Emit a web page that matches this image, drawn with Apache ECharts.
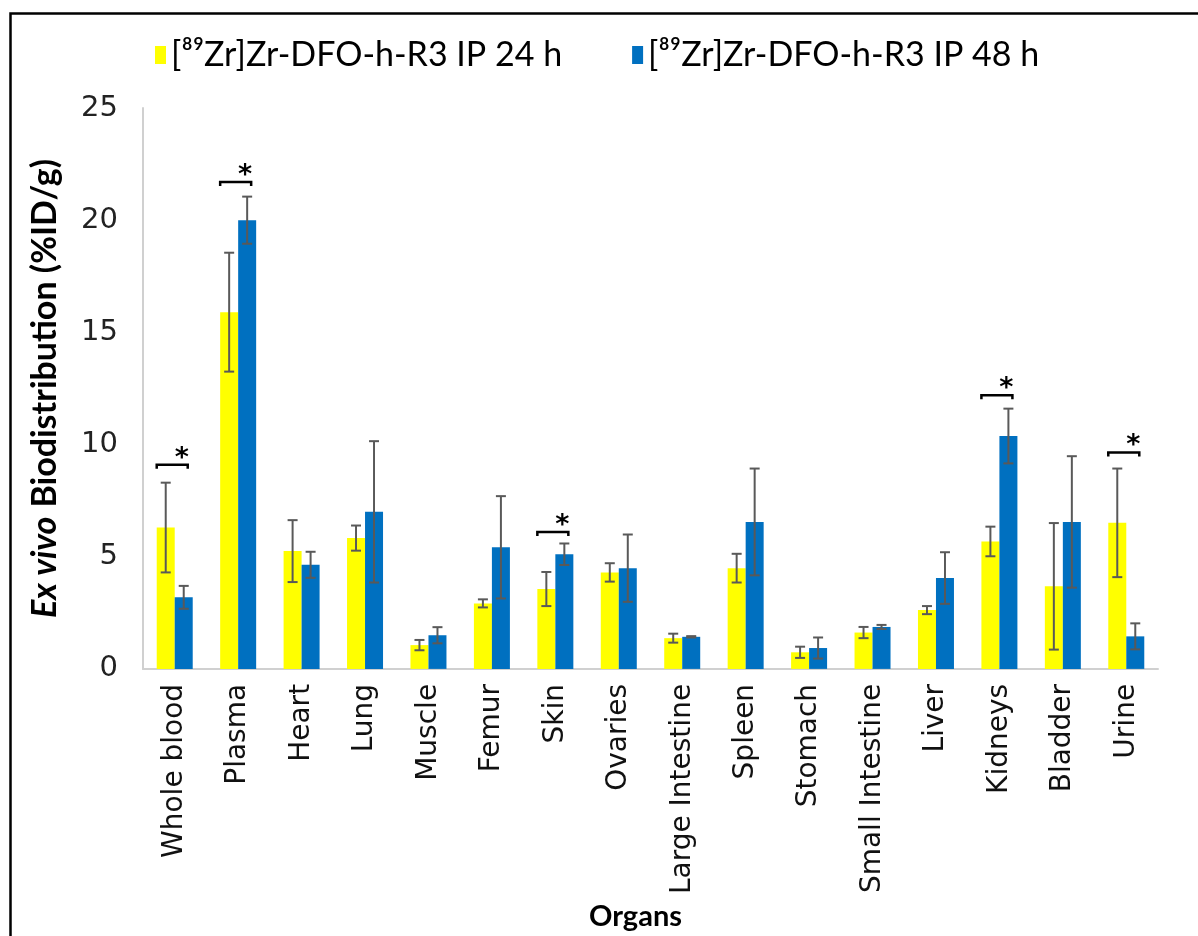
<!DOCTYPE html>
<html>
<head>
<meta charset="utf-8">
<script src="https://cdn.jsdelivr.net/npm/echarts@6/dist/echarts.min.js"></script>
<style>
html,body{margin:0;padding:0;background:#fff;}
#chart{width:1198px;height:936px;}
</style>
</head>
<body>
<div id="chart"></div>
<script>
const organs = ['Whole blood','Plasma','Heart','Lung','Muscle','Femur','Skin','Ovaries','Large Intestine','Spleen','Stomach','Small Intestine','Liver','Kidneys','Bladder','Urine'];
const seriesNames = ['[⁸⁹Zr]Zr-DFO-h-R3 IP 24 h', '[⁸⁹Zr]Zr-DFO-h-R3 IP 48 h'];
const values24 = [6.3, 15.9, 5.25, 5.83, 1.06, 2.92, 3.56, 4.3, 1.37, 4.49, 0.74, 1.62, 2.62, 5.68, 3.68, 6.51];
const err24 = [2.0, 2.65, 1.38, 0.56, 0.23, 0.18, 0.76, 0.41, 0.2, 0.64, 0.25, 0.25, 0.18, 0.66, 2.82, 2.42];
const values48 = [3.19, 20.0, 4.64, 7.0, 1.5, 5.42, 5.11, 4.49, 1.43, 6.55, 0.93, 1.87, 4.05, 10.38, 6.55, 1.45];
const err48 = [0.51, 1.05, 0.58, 3.15, 0.36, 2.28, 0.48, 1.5, 0.03, 2.38, 0.47, 0.09, 1.15, 1.22, 2.93, 0.58];
const yTicks = { min: 0, max: 25, interval: 5 };
// significance brackets: organ index, bracket level (%ID/g)
const sigOrgan = [0, 1, 6, 13, 15];
const sigLevel = [9.1, 21.7, 6.1, 12.2, 9.65];

const chart = echarts.init(document.getElementById('chart'), null, {renderer: 'canvas'});

function errData(vals, errs) {
  return vals.map((v, i) => [i, v - errs[i], v + errs[i]]);
}
const HALF = 9;
function errRender(offset) {
  return function (params, api) {
    const i = api.value(0);
    const lo = api.coord([i, api.value(1)]);
    const hi = api.coord([i, api.value(2)]);
    const x = lo[0] + offset;
    const cap = 5;
    const style = {stroke: '#595959', lineWidth: 2};
    return {
      type: 'group',
      children: [
        {type: 'line', shape: {x1: x, y1: lo[1], x2: x, y2: hi[1]}, style},
        {type: 'line', shape: {x1: x - cap, y1: lo[1], x2: x + cap, y2: lo[1]}, style},
        {type: 'line', shape: {x1: x - cap, y1: hi[1], x2: x + cap, y2: hi[1]}, style}
      ]
    };
  };
}

const option = {
  backgroundColor: '#ffffff',
  animation: false,
  graphic: [{
    type: 'rect', left: 8, top: 11, z: 100,
    shape: {x: 0, y: 0, width: 1195, height: 1000},
    style: {fill: 'none', stroke: '#000', lineWidth: 2.5}
  }],
  legend: {
    top: 33, left: 150,
    itemWidth: 11, itemHeight: 18, itemGap: 70,
    icon: 'rect',
    textStyle: {fontFamily: 'Lato', fontSize: 34, color: '#000'},
    data: seriesNames
  },
  grid: {left: 143, right: 40, top: 108, bottom: 262, containLabel: false},
  xAxis: {
    type: 'category',
    data: organs,
    axisLine: {show: true, lineStyle: {color: '#d0d0d0', width: 2}},
    axisTick: {show: false},
    axisLabel: {rotate: 90, margin: 15, fontFamily: 'DejaVu Sans', fontSize: 28, color: '#111', interval: 0},
    name: 'Organs',
    nameLocation: 'middle',
    nameGap: 231,
    nameTextStyle: {fontFamily: 'Lato', fontWeight: 'bold', fontSize: 29, color: '#000', padding: [0, 30, 0, 0]}
  },
  yAxis: {
    type: 'value',
    min: yTicks.min, max: yTicks.max, interval: yTicks.interval,
    splitLine: {show: false},
    axisLine: {show: true, lineStyle: {color: '#d0d0d0', width: 2}},
    axisTick: {show: false},
    axisLabel: {margin: 25, fontFamily: 'DejaVu Sans', fontSize: 29, color: '#222'},
    name: '{i|Ex vivo}{s| }{b|Biodistribution (%ID/g)}',
    nameLocation: 'middle',
    nameRotate: 90,
    nameGap: 81,
    nameTextStyle: {
      rich: {
        i: {fontFamily: 'Lato', fontStyle: 'italic', fontWeight: 'bold', fontSize: 34, color: '#000'},
        s: {fontFamily: 'Lato', fontSize: 34, width: 9},
        b: {fontFamily: 'Lato', fontWeight: 'bold', fontSize: 34, color: '#000'}
      }
    }
  },
  series: [
    {
      name: seriesNames[0], type: 'bar', data: values24,
      barWidth: 18, barGap: '0%',
      itemStyle: {color: '#FFFF00'}
    },
    {
      name: seriesNames[1], type: 'bar', data: values48,
      barWidth: 18, barGap: '0%',
      itemStyle: {color: '#0070C0'}
    },
    {
      type: 'custom', name: 'err24', data: errData(values24, err24),
      renderItem: errRender(-HALF), encode: {x: 0, y: [1, 2]}, z: 10, silent: true
    },
    {
      type: 'custom', name: 'err48', data: errData(values48, err48),
      renderItem: errRender(HALF), encode: {x: 0, y: [1, 2]}, z: 10, silent: true
    },
    {
      type: 'custom', name: 'sig',
      data: sigOrgan.map((o, k) => [o, sigLevel[k]]),
      encode: {x: 0, y: 1}, z: 11, silent: true,
      renderItem: function (params, api) {
        const p = api.coord([api.value(0), api.value(1)]);
        const x0 = p[0] - 18, x1 = p[0] + 13, y = p[1];
        return {
          type: 'group',
          children: [
            {type: 'polyline', shape: {points: [[x0, y + 4], [x0, y], [x1, y], [x1, y + 4]]},
             style: {stroke: '#000', lineWidth: 2.5, fill: 'none'}},
            {type: 'text', x: p[0] + 7, y: y - 6,
             style: {text: '*', fontFamily: 'DejaVu Sans', fontSize: 27, fontWeight: 'bold', fill: '#000', align: 'center', verticalAlign: 'middle'}}
          ]
        };
      }
    }
  ]
};
chart.setOption(option);
</script>
</body>
</html>
